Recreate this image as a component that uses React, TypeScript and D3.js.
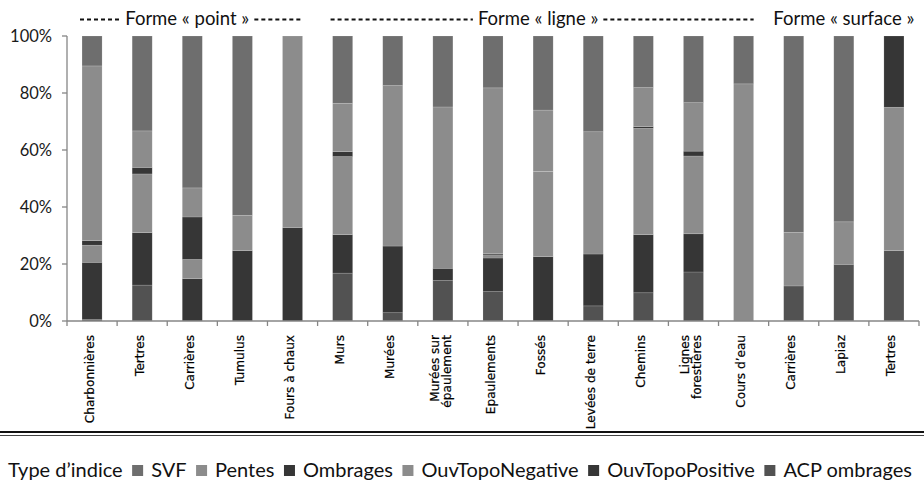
import React, {useEffect, useRef} from 'react';
import * as d3 from 'd3';

// categories (a "|" splits the label on two lines)
const categories = [
  "Charbonnières", "Tertres", "Carrières", "Tumulus", "Fours à chaux",
  "Murs", "Murées", "Murées sur|épaulement", "Epaulements", "Fossés",
  "Levées de terre", "Chemins", "Lignes|forestières", "Cours d’eau",
  "Carrières", "Lapiaz", "Tertres"
];

// series, listed from the bottom of the stack to the top (values in %)
const seriesNames = ["ACP ombrages", "OuvTopoPositive", "OuvTopoNegative", "Ombrages", "Pentes", "SVF"];
const acpOmbrages = [0.5, 12.6, 0, 0, 0, 16.8, 2.9, 14.2, 10.3, 0, 5.3, 9.9, 17.2, 0, 12.3, 19.9, 24.7];
const ouvTopoPositive = [20.1, 18.4, 14.9, 0, 0, 13.5, 23.4, 4.3, 11.8, 22.6, 18.2, 20.4, 13.4, 0, 0, 0, 0];
const ouvTopoNegative = [6.0, 20.6, 6.7, 0, 0, 27.4, 0, 0, 1.1, 29.9, 0, 37.3, 27.3, 0, 0, 0, 50.3];
const ombrages = [1.6, 2.3, 14.9, 24.7, 32.8, 1.7, 0, 0, 0.4, 0, 0, 0.6, 1.7, 0, 0, 0, 25.0];
const pentes = [61.3, 12.8, 10.2, 12.4, 67.2, 17.0, 56.3, 56.6, 58.2, 21.5, 42.9, 13.7, 17.0, 83.2, 18.8, 14.9, 0];
const svf = [10.5, 33.3, 53.3, 62.9, 0, 23.6, 17.4, 24.9, 18.2, 26.0, 33.6, 18.1, 23.4, 16.8, 68.9, 65.2, 0];
const seriesColors = ["#525252", "#363636", "#8c8c8c", "#363636", "#8c8c8c", "#6e6e6e"];

// legend order as in the picture
const legendNames = ["SVF", "Pentes", "Ombrages", "OuvTopoNegative", "OuvTopoPositive", "ACP ombrages"];

// groups of shapes shown above the bars
const groupLabels = ["Forme « point »", "Forme « ligne »", "Forme « surface »"];
const groupSizes = [5, 9, 3];
const groupDashed = [true, true, false];

const yTicks = [0, 20, 40, 60, 80, 100];

const W = 924, H = 481;

const App: React.FC = () => {
  const ref = useRef<SVGSVGElement>(null);

  useEffect(() => {
    const svg = d3.select(ref.current!);
    svg.selectAll("*").remove();

    const margin = {left: 67, right: 5, top: 36, bottom: 160};
    const plotRight = W - margin.right;
    const plotBottom = H - margin.bottom;

    const x = d3.scaleBand<number>()
    .domain(categories.map((_, i) => i))
    .range([margin.left, plotRight])
    .paddingInner(0.6)
    .paddingOuter(0.3);
    const step = x.step();

    const y = d3.scaleLinear().domain([0, 100]).range([plotBottom, margin.top]);

    const table = categories.map((_, i) => {
      const row: any = {i};
      const cols = [acpOmbrages, ouvTopoPositive, ouvTopoNegative, ombrages, pentes, svf];
      seriesNames.forEach((s, k) => row[s] = cols[k][i]);
      return row;
    });
    const stacked = d3.stack().keys(seriesNames)(table);

    // bars
    svg.append("g")
    .selectAll("g")
    .data(stacked)
    .enter().append("g")
    .attr("fill", (_, k) => seriesColors[k])
    .selectAll("rect")
    .data(d => d)
    .enter().append("rect")
    .attr("x", (d: any) => x(d.data.i)!)
    .attr("width", x.bandwidth())
    .attr("y", d => y(d[1]))
    .attr("height", d => Math.max(0, y(d[0]) - y(d[1])))
    .attr("stroke", "#ffffff")
    .attr("stroke-opacity", 0.25)
    .attr("stroke-width", 0.6);

    const axisColor = "#868686";
    // y axis
    const yAxis = svg.append("g");
    yAxis.append("line")
    .attr("x1", margin.left).attr("x2", margin.left)
    .attr("y1", margin.top).attr("y2", plotBottom)
    .attr("stroke", axisColor).attr("stroke-width", 1.3);
    yAxis.selectAll(".tick")
    .data(yTicks)
    .enter().append("line")
    .attr("x1", margin.left - 5).attr("x2", margin.left)
    .attr("y1", d => y(d)).attr("y2", d => y(d))
    .attr("stroke", axisColor).attr("stroke-width", 1.3);
    yAxis.selectAll("text")
    .data(yTicks)
    .enter().append("text")
    .attr("x", margin.left - 15)
    .attr("y", d => y(d))
    .attr("dy", "0.36em")
    .attr("text-anchor", "end")
    .attr("font-family", "Lato, 'Open Sans', sans-serif")
    .attr("font-size", 16.5)
    .attr("fill", "#1a1a1a")
    .text(d => d + "%");

    // x axis
    const xAxis = svg.append("g");
    xAxis.append("line")
    .attr("x1", margin.left).attr("x2", margin.left + step * categories.length)
    .attr("y1", plotBottom).attr("y2", plotBottom)
    .attr("stroke", axisColor).attr("stroke-width", 1.3);
    xAxis.selectAll(".tick")
    .data(d3.range(categories.length + 1))
    .enter().append("line")
    .attr("x1", i => margin.left + i * step).attr("x2", i => margin.left + i * step)
    .attr("y1", plotBottom).attr("y2", plotBottom + 5)
    .attr("stroke", axisColor).attr("stroke-width", 1.3);

    const labels = xAxis.selectAll(".lab")
    .data(categories)
    .enter().append("g")
    .attr("transform", (_, i) => {
      const cx = x(i)! + x.bandwidth() / 2;
      return "translate(" + cx + "," + (plotBottom + 14) + ") rotate(-90)";
    });
    labels.each(function (d) {
      const lines = d.split("|");
      const g = d3.select(this);
      lines.forEach((line, j) => {
        g.append("text")
        .attr("x", 0)
        .attr("y", lines.length === 1 ? 1.5 : -4 + j * 12)
        .attr("text-anchor", "end")
        .attr("font-family", "'DejaVu Sans', Verdana, sans-serif")
        .attr("font-size", 12.1)
        .attr("fill", "#000")
        .attr("stroke", "#000")
        .attr("stroke-width", 0.2)
        .text(line);
      });
    });

    // group headers
    let start = 0;
    groupLabels.forEach((label, gi) => {
      const x0 = margin.left + start * step;
      const x1 = margin.left + (start + groupSizes[gi]) * step;
      start += groupSizes[gi];
      const cx = (x0 + x1) / 2 - (gi === 2 ? 0 : 5);
      const t = svg.append("text")
      .attr("x", cx)
      .attr("y", 25)
      .attr("text-anchor", "middle")
      .attr("font-family", "Lato, 'Open Sans', sans-serif")
      .attr("font-size", 18.5)
      .attr("fill", "#111")
      .text(label);
      if (groupDashed[gi]) {
        const tw = (t.node() as SVGTextElement).getComputedTextLength();
        const segs = [[x0 + 13, cx - tw / 2 - 5], [cx + tw / 2 + 5, x1 - 15]];
        segs.forEach(([a, b]) => {
          svg.append("line")
          .attr("x1", a).attr("x2", b)
          .attr("y1", 19.5).attr("y2", 19.5)
          .attr("stroke", "#111")
          .attr("stroke-width", 2)
          .attr("stroke-dasharray", "4,3");
        });
      }
    });

    // separator above the legend
    svg.append("line")
    .attr("x1", 0).attr("x2", W).attr("y1", 432).attr("y2", 432)
    .attr("stroke", "#111").attr("stroke-width", 2.2);
    svg.append("line")
    .attr("x1", 0).attr("x2", W).attr("y1", 435.5).attr("y2", 435.5)
    .attr("stroke", "#444").attr("stroke-width", 1);

    // legend: items spread so that the last label ends near the right edge
    const legend = svg.append("g").attr("font-family", "Lato, 'Open Sans', sans-serif")
    .attr("font-size", 20).attr("fill", "#111");
    const title = legend.append("text").attr("x", 8).attr("y", 477).text("Type d’indice");
    const titleW = (title.node() as SVGTextElement).getComputedTextLength();
    const items = legendNames.map(name => {
      const t = legend.append("text").attr("y", 477).text(name);
      return {name, t, w: (t.node() as SVGTextElement).getComputedTextLength()};
    });
    const sq = 11, sqGap = 8;
    const used = titleW + d3.sum(items, d => d.w + sq + sqGap);
    const gap = (912 - 8 - used) / items.length;
    let lx = 8 + titleW + gap;
    items.forEach(({name, t, w}) => {
      const k = seriesNames.indexOf(name);
      legend.append("rect")
      .attr("x", lx).attr("y", 465).attr("width", sq).attr("height", sq)
      .attr("fill", seriesColors[k]);
      t.attr("x", lx + sq + sqGap);
      lx += sq + sqGap + w + gap;
    });
  }, []);

  return (
    <svg ref={ref} width={W} height={H}
         style={{position: "absolute", left: 0, top: 0, background: "#fff", display: "block"}}/>
  );
};

export default App;
